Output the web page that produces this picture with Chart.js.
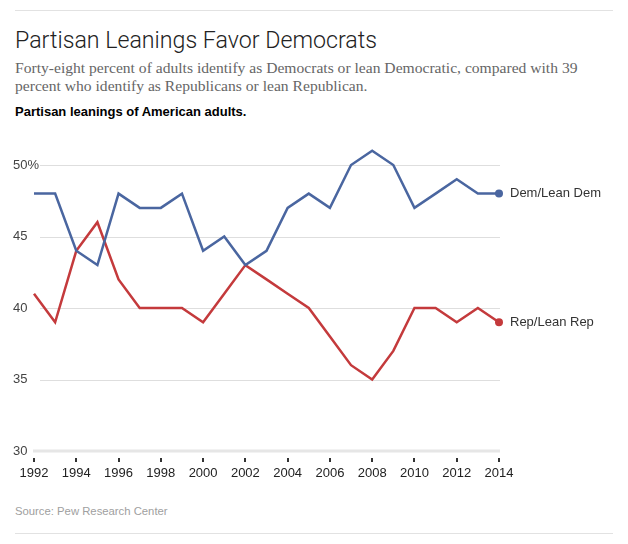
<!DOCTYPE html>
<html>
<head>
<meta charset="utf-8">
<script src="https://cdn.jsdelivr.net/npm/chart.js@4/dist/chart.umd.min.js"></script>
<style>
  html, body { margin: 0; padding: 0; background: #fff; }
  #wrap { position: relative; width: 628px; height: 544px; overflow: hidden; }
  .rule { position: absolute; left: 15px; width: 598px; height: 1px; background: #e2e2e2; }
  #title { position: absolute; left: 15px; top: 26px; font: 300 23.2px Roboto, "Liberation Sans", sans-serif; color: #222; white-space: nowrap; }
  #sub { position: absolute; left: 15px; top: 59px; width: 575px; font: 15.6px "Liberation Serif", serif; line-height: 18px; color: #666; }
  #label { position: absolute; left: 15px; top: 104px; font: bold 13px "Liberation Sans", sans-serif; color: #000; }
  #source { position: absolute; left: 15px; top: 505px; font: 11.3px "Liberation Sans", sans-serif; color: #a0a0a0; }
  #cv { position: absolute; left: 0; top: 140px; }
</style>
</head>
<body>
<div id="wrap">
  <div class="rule" style="top:10px"></div>
  <div id="title">Partisan Leanings Favor Democrats</div>
  <div id="sub">Forty-eight percent of adults identify as Democrats or lean Democratic, compared with 39 percent who identify as Republicans or lean Republican.</div>
  <div id="label">Partisan leanings of American adults.</div>
  <canvas id="cv" width="628" height="360"></canvas>
  <div id="source">Source: Pew Research Center</div>
  <div class="rule" style="top:533px"></div>
</div>
<script>
const years = ['1992','1993','1994','1995','1996','1997','1998','1999','2000','2001','2002','2003','2004','2005','2006','2007','2008','2009','2010','2011','2012','2013','2014'];
const demValues = [48,48,44,43,48,47,47,48,44,45,43,44,47,48,47,50,51,50,47,48,49,48,48];
const repValues = [41,39,44,46,42,40,40,40,39,41,43,42,41,40,38,36,35,37,40,40,39,40,39];
const xTickLabels = ['1992','1994','1996','1998','2000','2002','2004','2006','2008','2010','2012','2014'];
const yTickValues = [30,35,40,45,50];
const seriesNames = ['Dem/Lean Dem','Rep/Lean Rep'];
const seriesColors = ['#4a66a0','#c43a3c'];

const lastIdx = years.length - 1;

const decor = {
  id: 'decor',
  beforeDatasetsDraw(chart) {
    const ctx = chart.ctx, y = chart.scales.y, a = chart.chartArea;
    ctx.save();
    yTickValues.forEach(v => {
      const py = y.getPixelForValue(v);
      if (v === 30) {
        ctx.strokeStyle = '#e6e6e6'; ctx.lineWidth = 3;
        ctx.beginPath(); ctx.moveTo(a.left - 1, py); ctx.lineTo(a.right + 1, py); ctx.stroke();
      } else {
        ctx.strokeStyle = '#dedede'; ctx.lineWidth = 1;
        ctx.beginPath(); ctx.moveTo(a.left + 6, Math.round(py) + 0.5); ctx.lineTo(a.right + 1, Math.round(py) + 0.5); ctx.stroke();
      }
    });
    const x = chart.scales.x;
    ctx.fillStyle = '#333';
    xTickLabels.forEach(l => {
      const px = x.getPixelForValue(years.indexOf(l));
      ctx.fillRect(Math.round(px) - 1, a.bottom + 7, 2, 4);
    });
    ctx.restore();
  },
  afterDatasetsDraw(chart) {
    const ctx = chart.ctx;
    ctx.save();
    ctx.font = '13px "Liberation Sans", sans-serif';
    ctx.fillStyle = '#333';
    ctx.textBaseline = 'middle';
    chart.data.datasets.forEach((ds, i) => {
      const pt = chart.getDatasetMeta(i).data[lastIdx];
      ctx.fillText(seriesNames[i], pt.x + 11, pt.y);
    });
    ctx.restore();
  }
};

new Chart(document.getElementById('cv'), {
  type: 'line',
  data: {
    labels: years,
    datasets: [
      { label: seriesNames[0], data: demValues, borderColor: seriesColors[0], backgroundColor: seriesColors[0] },
      { label: seriesNames[1], data: repValues, borderColor: seriesColors[1], backgroundColor: seriesColors[1] }
    ].map(d => Object.assign(d, {
      borderWidth: 2.5, tension: 0, clip: false,
      pointRadius: c => c.dataIndex === lastIdx ? 4 : 0,
      pointBorderWidth: 0, pointHoverRadius: 0
    }))
  },
  options: {
    responsive: false,
    animation: false,
    devicePixelRatio: 1,
    layout: { padding: { left: 34, right: 129, top: 25, bottom: 9 } },
    plugins: { legend: { display: false }, tooltip: { enabled: false } },
    scales: {
      x: {
        type: 'category',
        offset: false,
        grid: { display: false, drawTicks: false },
        border: { display: false },
        afterFit: s => { s.height = 40; },
        ticks: {
          autoSkip: false, maxRotation: 0, padding: 15,
          color: '#222', font: { family: '"Liberation Sans", sans-serif', size: 13 },
          callback: (v, i) => xTickLabels.includes(years[i]) ? years[i] : ''
        }
      },
      y: {
        min: 30, max: 50,
        afterBuildTicks: s => { s.ticks = yTickValues.map(v => ({ value: v })); },
        afterFit: s => { s.width = 0; },
        grid: { display: false, drawTicks: false },
        border: { display: false },
        ticks: {
          mirror: true, padding: -21,
          color: '#444', font: { family: '"Liberation Sans", sans-serif', size: 13 },
          callback: v => v === 50 ? '50%' : String(v)
        }
      }
    }
  },
  plugins: [decor]
});
</script>
</body>
</html>
